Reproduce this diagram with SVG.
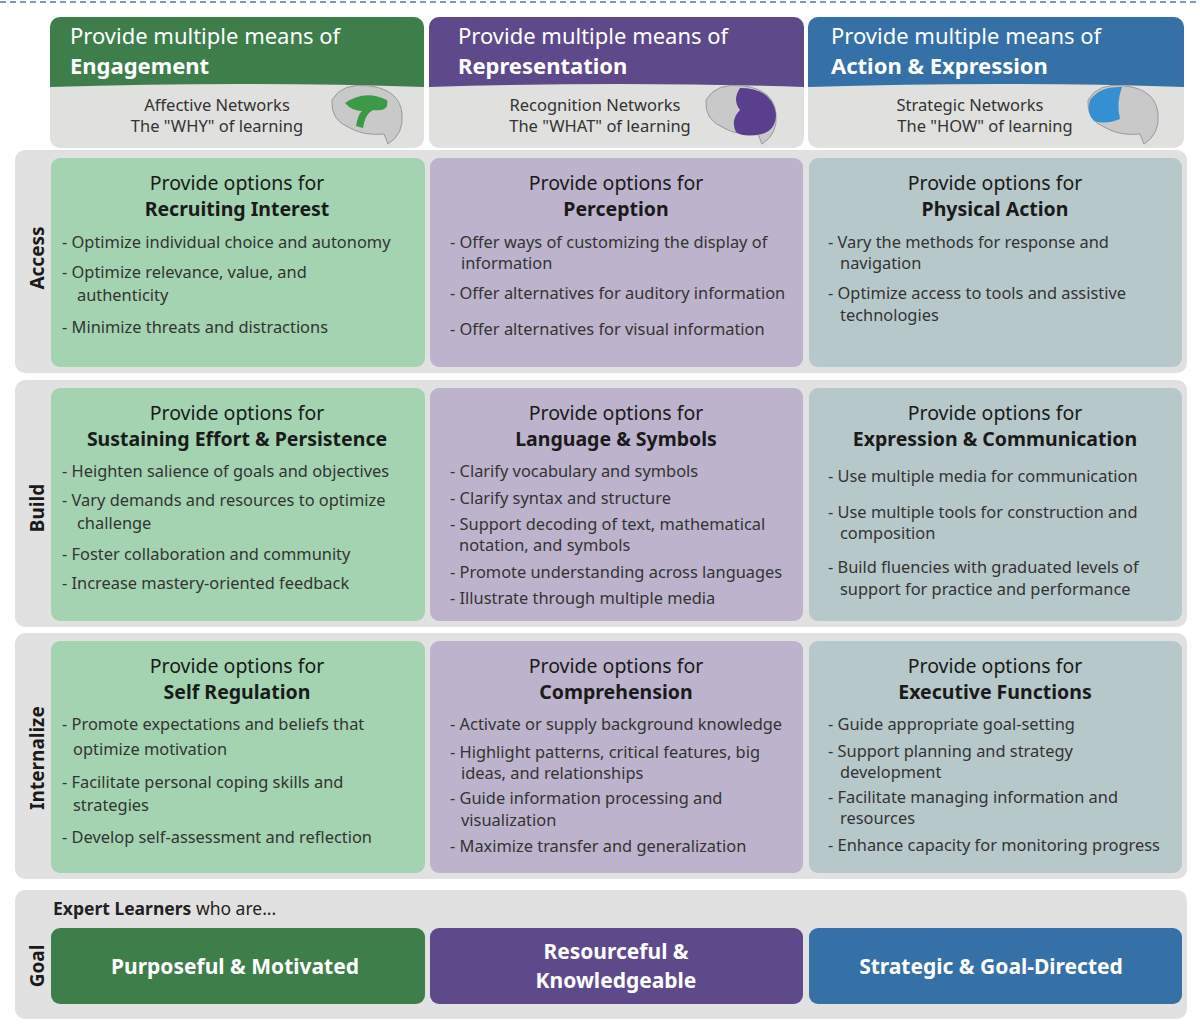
<svg xmlns="http://www.w3.org/2000/svg" width="1200" height="1027" viewBox="0 0 1200 1027">
<style>
text{font-family:"Noto Sans","Open Sans",sans-serif;fill:#222}
.ht{font-size:22px;fill:#fff}
.b{font-weight:bold}
.sub{font-size:16.5px;text-anchor:middle;fill:#333}
.ct{font-size:19.5px;text-anchor:middle;fill:#1a1a1a}
.it{font-size:16.4px;fill:#333}
.band{fill:#e1e1e1}
.g{fill:#a3d3b0}.p{fill:#bdb3cc}.bl{fill:#b7c8ca}
.rl{font-size:19px;font-weight:bold;text-anchor:middle;fill:#1a1a1a}
.gt{font-size:21px;font-weight:bold;fill:#fff;text-anchor:middle}
.brain{fill:#c9c9c9;stroke:#999;stroke-width:1}
</style>
<line x1="0" y1="2" x2="1200" y2="2" stroke="#7a9ac4" stroke-width="2" stroke-dasharray="6,4"/>
<g id="head-engagement">
<rect x="50" y="17" width="374" height="131" rx="10" fill="#e0e0de"/>
<path d="M50,27 a10,10 0 0 1 10,-10 h354 a10,10 0 0 1 10,10 v60 q-180,-6 -374,0 z" fill="#3d7e4b"/>
<text class="ht" x="70" y="44">Provide multiple means of</text><text class="ht b" x="70" y="74">Engagement</text>
<path class="brain" d="M332,100 q10,-18 38,-14 q30,4 32,28 q2,20 -14,30 l-4,-10 q-20,2 -34,-6 q-20,-8 -18,-28z"/>
<path d="M345,103 q20,-14 42,-3 q3,12 -14,10 q-8,4 -10,18 l-7,-2 q2,-12 6,-15 q-10,0 -17,-8z" fill="#3a9a45"/>
<text class="sub" x="217" y="111">Affective Networks</text><text class="sub" x="217" y="132">The "WHY" of learning</text>
</g>
<g id="head-representation">
<rect x="429" y="17" width="375" height="131" rx="10" fill="#e0e0de"/>
<path d="M429,27 a10,10 0 0 1 10,-10 h355 a10,10 0 0 1 10,10 v60 q-180,-6 -375,0 z" fill="#5e4a8a"/>
<text class="ht" x="458" y="44">Provide multiple means of</text><text class="ht b" x="458" y="74">Representation</text>
<path class="brain" d="M706,100 q10,-18 38,-14 q30,4 32,28 q2,20 -14,30 l-4,-10 q-20,2 -34,-6 q-20,-8 -18,-28z"/>
<path d="M740,88 q32,0 36,26 q0,16 -14,20 q-18,4 -26,-2 q-6,-12 4,-22 q-8,-10 0,-22z" fill="#5a3f8f"/>
<text class="sub" x="595" y="111">Recognition Networks</text><text class="sub" x="600" y="132">The "WHAT" of learning</text>
</g>
<g id="head-action">
<rect x="808" y="17" width="376" height="131" rx="10" fill="#e0e0de"/>
<path d="M808,27 a10,10 0 0 1 10,-10 h356 a10,10 0 0 1 10,10 v60 q-180,-6 -376,0 z" fill="#3571a6"/>
<text class="ht" x="831" y="44">Provide multiple means of</text><text class="ht b" x="831" y="74">Action  &amp; Expression</text>
<path class="brain" d="M1088,100 q10,-18 38,-14 q30,4 32,28 q2,20 -14,30 l-4,-10 q-20,2 -34,-6 q-20,-8 -18,-28z"/>
<path d="M1090,100 q10,-14 32,-13 q-6,16 -2,32 q-14,6 -26,2 q-8,-8 -4,-21z" fill="#3490d0"/>
<text class="sub" x="970" y="111">Strategic Networks</text><text class="sub" x="985" y="132">The "HOW" of learning</text>
</g>
<g id="band-access"><rect class="band" x="15" y="150" width="1172" height="223" rx="10"/><text class="rl" transform="translate(44,258) rotate(-90)">Access</text></g>
<g id="band-build"><rect class="band" x="15" y="380" width="1172" height="247" rx="10"/><text class="rl" transform="translate(44,508) rotate(-90)">Build</text></g>
<g id="band-internalize"><rect class="band" x="15" y="633" width="1172" height="246" rx="10"/><text class="rl" transform="translate(44,758) rotate(-90)">Internalize</text></g>
<g id="band-goal"><rect class="band" x="15" y="890" width="1172" height="129" rx="10"/><text class="rl" transform="translate(44,966) rotate(-90)">Goal</text>
<text x="53" y="915" font-size="17.5"><tspan font-weight="bold">Expert Learners</tspan> who are...</text></g>
<g id="recruiting"><rect class="g" x="51" y="158" width="374" height="209" rx="9"/>
<text class="ct" x="237" y="190">Provide options for</text><text class="ct b" x="237" y="216">Recruiting Interest</text>
<text class="it" x="62" y="248">- Optimize individual choice and autonomy</text>
<text class="it" x="62" y="278">- Optimize relevance, value, and</text><text class="it" x="77" y="301">authenticity</text>
<text class="it" x="62" y="333">- Minimize threats and distractions</text></g>
<g id="perception"><rect class="p" x="430" y="158" width="373" height="209" rx="9"/>
<text class="ct" x="616" y="190">Provide options for</text><text class="ct b" x="616" y="216">Perception</text>
<text class="it" x="450" y="248">- Offer ways of customizing the display of</text><text class="it" x="461" y="269">information</text>
<text class="it" x="450" y="299">- Offer alternatives for auditory information</text>
<text class="it" x="450" y="335">- Offer alternatives for visual information</text></g>
<g id="physical"><rect class="bl" x="809" y="158" width="373" height="209" rx="9"/>
<text class="ct" x="995" y="190">Provide options for</text><text class="ct b" x="995" y="216">Physical Action</text>
<text class="it" x="828" y="248">- Vary the methods for response and</text><text class="it" x="840" y="269">navigation</text>
<text class="it" x="828" y="299">- Optimize access to tools and assistive</text><text class="it" x="840" y="321">technologies</text></g>
<g id="sustaining"><rect class="g" x="51" y="388" width="374" height="233" rx="9"/>
<text class="ct" x="237" y="420">Provide options for</text><text class="ct b" x="237" y="446">Sustaining Effort &amp; Persistence</text>
<text class="it" x="62" y="477">- Heighten salience of goals and objectives</text>
<text class="it" x="62" y="506">- Vary demands and resources to optimize</text><text class="it" x="77" y="529">challenge</text>
<text class="it" x="62" y="560">- Foster collaboration and community</text>
<text class="it" x="62" y="589">- Increase mastery-oriented feedback</text></g>
<g id="language"><rect class="p" x="430" y="388" width="373" height="233" rx="9"/>
<text class="ct" x="616" y="420">Provide options for</text><text class="ct b" x="616" y="446">Language &amp; Symbols</text>
<text class="it" x="450" y="477">- Clarify vocabulary and symbols</text>
<text class="it" x="450" y="504">- Clarify syntax and structure</text>
<text class="it" x="450" y="530">- Support decoding of text, mathematical</text><text class="it" x="459" y="551">notation, and symbols</text>
<text class="it" x="450" y="578">- Promote understanding across languages</text>
<text class="it" x="450" y="604">- Illustrate through multiple media</text></g>
<g id="expression"><rect class="bl" x="809" y="388" width="373" height="233" rx="9"/>
<text class="ct" x="995" y="420">Provide options for</text><text class="ct b" x="995" y="446">Expression &amp; Communication</text>
<text class="it" x="828" y="482">- Use multiple media for communication</text>
<text class="it" x="828" y="518">- Use multiple tools for construction and</text><text class="it" x="840" y="539">composition</text>
<text class="it" x="828" y="573">- Build fluencies with graduated levels of</text><text class="it" x="840" y="595">support for practice and performance</text></g>
<g id="selfreg"><rect class="g" x="51" y="641" width="374" height="232" rx="9"/>
<text class="ct" x="237" y="673">Provide options for</text><text class="ct b" x="237" y="699">Self Regulation</text>
<text class="it" x="62" y="730">- Promote expectations and beliefs that</text><text class="it" x="73" y="755">optimize motivation</text>
<text class="it" x="62" y="788">- Facilitate personal coping skills and</text><text class="it" x="73" y="811">strategies</text>
<text class="it" x="62" y="843">- Develop self-assessment and reflection</text></g>
<g id="comprehension"><rect class="p" x="430" y="641" width="373" height="232" rx="9"/>
<text class="ct" x="616" y="673">Provide options for</text><text class="ct b" x="616" y="699">Comprehension</text>
<text class="it" x="450" y="730">- Activate or supply background knowledge</text>
<text class="it" x="450" y="758">- Highlight patterns, critical features, big</text><text class="it" x="461" y="779">ideas, and relationships</text>
<text class="it" x="450" y="804">- Guide information processing and</text><text class="it" x="461" y="826">visualization</text>
<text class="it" x="450" y="852">- Maximize transfer and generalization</text></g>
<g id="executive"><rect class="bl" x="809" y="641" width="373" height="232" rx="9"/>
<text class="ct" x="995" y="673">Provide options for</text><text class="ct b" x="995" y="699">Executive Functions</text>
<text class="it" x="828" y="730">- Guide appropriate goal-setting</text>
<text class="it" x="828" y="757">- Support planning and strategy</text><text class="it" x="840" y="778">development</text>
<text class="it" x="828" y="803">- Facilitate managing information and</text><text class="it" x="840" y="824">resources</text>
<text class="it" x="828" y="851">- Enhance capacity for monitoring progress</text></g>
<g id="goal-purposeful"><rect x="51" y="928" width="374" height="76" rx="9" fill="#3d7e4b"/><text class="gt" x="235" y="974">Purposeful &amp; Motivated</text></g>
<g id="goal-resourceful"><rect x="430" y="928" width="373" height="76" rx="9" fill="#5e4a8a"/><text class="gt" x="616" y="959">Resourceful &amp;</text><text class="gt" x="616" y="988">Knowledgeable</text></g>
<g id="goal-strategic"><rect x="809" y="928" width="373" height="76" rx="9" fill="#3571a6"/><text class="gt" x="991" y="974">Strategic &amp; Goal-Directed</text></g>
<g id="connectors"/>
</svg>
